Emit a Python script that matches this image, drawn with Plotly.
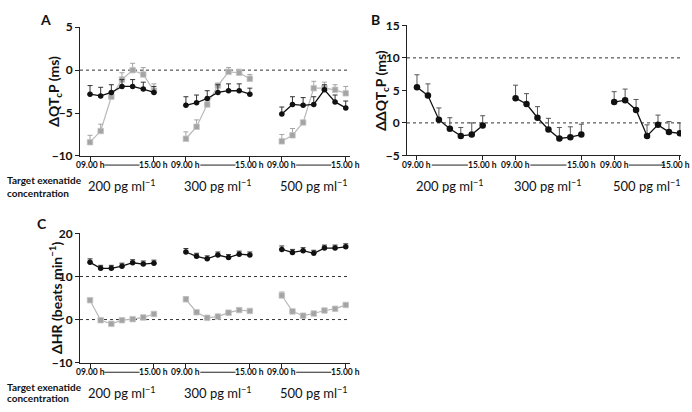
import plotly.graph_objects as go

W, H = 692, 412
FONT = "Lato"

groups = ["200", "300", "500"]
times = [0, 1, 2, 3, 4, 5, 6]
tick_labels = ["09.00 h", "15.00 h"]

# Panel A: delta QTcP (ms)
a_black = {"200": [-2.8, -3.0, -2.6, -1.9, -1.9, -2.2, -2.6],
           "300": [-4.1, -3.8, -3.3, -2.6, -2.4, -2.4, -2.8],
           "500": [-5.1, -4.0, -4.1, -4.0, -2.3, -3.7, -4.4]}
a_black_err = {"200": [1.0, 1.0, 0.9, 0.8, 0.8, 0.8, 0.7],
               "300": [1.0, 0.9, 0.9, 0.9, 0.8, 0.8, 0.7],
               "500": [0.8, 0.9, 0.9, 0.9, 0.6, 0.8, 0.8]}
a_gray = {"200": [-8.4, -7.1, -3.1, -1.1, 0.0, -0.5, -2.4],
          "300": [-8.0, -6.6, -4.0, -1.8, -0.2, -0.3, -1.0],
          "500": [-8.3, -7.6, -6.1, -2.1, -2.1, -2.3, -2.7]}
a_gray_err = {"200": [0.8, 0.8, 0.0, 0.8, 0.8, 0.8, 0.8],
              "300": [0.8, 0.8, 0.0, 0.0, 0.5, 0.4, 0.5],
              "500": [0.8, 0.8, 0.0, 0.8, 0.7, 0.6, 0.8]}

# Panel B: delta-delta QTcP (ms)
b_vals = {"200": [5.5, 4.2, 0.5, -0.9, -2.0, -1.8, -0.4],
          "300": [3.8, 2.9, 0.8, -1.0, -2.4, -2.2, -1.8],
          "500": [3.2, 3.5, 2.0, -2.0, -0.3, -1.4, -1.6]}
b_err = {"200": [1.9, 1.8, 1.8, 1.7, 1.3, 1.8, 1.5],
         "300": [2.0, 1.6, 1.7, 1.7, 1.7, 1.6, 1.6],
         "500": [1.6, 1.7, 1.6, 1.7, 1.5, 1.6, 1.6]}

# Panel C: delta HR (beats/min)
c_black = {"200": [13.3, 11.9, 11.9, 12.4, 13.2, 12.9, 13.1],
           "300": [15.7, 14.7, 14.1, 15.0, 14.4, 15.2, 15.0],
           "500": [16.3, 15.6, 16.0, 15.4, 16.6, 16.6, 16.9]}
c_black_err = {"200": [0.8, 0.7, 0.7, 0.7, 0.7, 0.7, 0.7],
               "300": [0.8, 0.7, 0.7, 0.7, 0.7, 0.7, 0.7],
               "500": [0.8, 0.7, 0.7, 0.7, 0.7, 0.7, 0.7]}
c_gray = {"200": [4.5, -0.15, -1.0, -0.15, 0.1, 0.5, 1.3],
          "300": [4.7, 1.7, 0.4, 0.7, 1.6, 2.2, 2.0],
          "500": [5.6, 1.9, 0.9, 1.4, 2.1, 2.5, 3.4]}
c_gray_err = {"200": [0.4, 0.2, 0.2, 0.2, 0.2, 0.2, 0.2],
              "300": [0.6, 0.2, 0.2, 0.2, 0.2, 0.2, 0.2],
              "500": [0.8, 0.2, 0.2, 0.2, 0.2, 0.2, 0.2]}

GAP = 9
BLACK = "#111111"
GRAY = "#a4a4a4"
GRAYLINE = "#b8b8b8"


def px_x(p):
    return p / W


def px_y(p):
    return 1 - p / H


fig = go.Figure()


def add_series(xa, ya, vals, errs, kind, msize=5.5, ecolor="#333333"):
    for gi, g in enumerate(groups):
        xs = [t + GAP * gi for t in times]
        if kind == "black":
            fig.add_trace(go.Scatter(
                x=xs, y=vals[g], xaxis=xa, yaxis=ya, mode="lines+markers",
                line=dict(color=BLACK, width=1.3),
                marker=dict(symbol="circle", size=msize, color=BLACK),
                error_y=dict(type="data", array=errs[g], arrayminus=[0] * len(xs),
                             symmetric=False, color=ecolor, thickness=1, width=2.5),
                showlegend=False, hoverinfo="skip"))
        else:
            fig.add_trace(go.Scatter(
                x=xs, y=vals[g], xaxis=xa, yaxis=ya, mode="lines+markers",
                line=dict(color=GRAYLINE, width=1.2),
                marker=dict(symbol="square", size=msize, color=GRAY,
                            line=dict(color="#c4c4c4", width=0.8)),
                error_y=dict(type="data", array=errs[g], arrayminus=[0] * len(xs),
                             symmetric=False, color=GRAY, thickness=1, width=2.5),
                showlegend=False, hoverinfo="skip"))


add_series("x", "y", a_gray, a_gray_err, "gray")
add_series("x", "y", a_black, a_black_err, "black")
add_series("x2", "y2", b_vals, b_err, "black", msize=6.5, ecolor="#555555")
add_series("x3", "y3", c_gray, c_gray_err, "gray")
add_series("x3", "y3", c_black, c_black_err, "black")

tickvals = []
ticktext = []
for gi in range(3):
    tickvals += [GAP * gi + 0, GAP * gi + 6]
    ticktext += tick_labels

xcommon = dict(showgrid=False, zeroline=False, showline=True, linecolor="#222",
               linewidth=1, ticks="outside", ticklen=4, tickcolor="#222",
               tickvals=tickvals, showticklabels=False)
ycommon = dict(showgrid=False, zeroline=False, showline=True, linecolor="#222",
               linewidth=1, ticks="outside", ticklen=4, tickcolor="#222",
               tickfont=dict(family=FONT, size=12, color="#111", weight="bold"))

fig.update_layout(
    width=W, height=H, margin=dict(l=0, r=0, t=0, b=0),
    paper_bgcolor="white", plot_bgcolor="white",
    xaxis=dict(domain=[px_x(80), px_x(350)], range=[-0.94, 24.4], anchor="y", **xcommon),
    yaxis=dict(domain=[px_y(153.5), px_y(20)], range=[-10, 5], anchor="x",
               tickvals=[-10, -5, 0, 5], ticktext=["−10", "−5", "0", "5"], **ycommon),
    xaxis2=dict(domain=[px_x(407), px_x(681)], range=[-0.91, 24.1], anchor="y2", **xcommon),
    yaxis2=dict(domain=[px_y(153), px_y(18)], range=[-5, 15], anchor="x2",
                tickvals=[-5, 0, 5, 10, 15], ticktext=["−5", "0", "5", "10", "15"], **ycommon),
    xaxis3=dict(domain=[px_x(80), px_x(350)], range=[-0.94, 24.4], anchor="y3", **xcommon),
    yaxis3=dict(domain=[px_y(368), px_y(234)], range=[-10, 20], anchor="x3",
                tickvals=[-10, 0, 10, 20], ticktext=["−10", "0", "10", "20"], **ycommon),
)

shapes = []
# dotted reference lines
for ya, x0, x1, yv in [("y", 80, 350, 0), ("y2", 407, 681, 0),
                       ("y2", 407, 681, 10), ("y3", 80, 350, 0),
                       ("y3", 80, 350, 10)]:
    shapes.append(dict(type="line", xref="paper", yref=ya, x0=px_x(x0), x1=px_x(x1),
                       y0=yv, y1=yv, line=dict(color="#333", width=1, dash="dot"), layer="below"))
# lines between tick labels
for xa, ypx in [("x", 163), ("x2", 163), ("x3", 378)]:
    for gi in range(3):
        shapes.append(dict(type="line", xref=xa, yref="paper",
                           x0=GAP * gi + 1.35, x1=GAP * gi + 4.65,
                           y0=px_y(ypx), y1=px_y(ypx), line=dict(color="#222", width=1)))
fig.update_layout(shapes=shapes)

ann = []
# x tick labels (as annotations so they never get hidden)
for xa, ypx in [("x", 163), ("x2", 163), ("x3", 378)]:
    for i, (xv, txt) in enumerate(zip(tickvals, ticktext)):
        last_b = (xa == "x2" and i == len(tickvals) - 1)
        ann.append(dict(text=txt, x=(px_x(692) if last_b else xv), y=px_y(ypx),
                        xref=("paper" if last_b else xa), yref="paper",
                        showarrow=False, xanchor=("right" if last_b else "center"),
                        yanchor="middle",
                        font=dict(family=FONT, size=8.5, color="#111", weight="bold")))
# panel letters
for txt, x, y in [("A", 45, 12), ("B", 376, 12), ("C", 42, 224)]:
    ann.append(dict(text=txt, x=px_x(x), y=px_y(y), xref="paper", yref="paper",
                    showarrow=False, xanchor="center", yanchor="middle",
                    font=dict(family=FONT, size=14, color="#111", weight="bold")))
# y axis titles
for txt, x, yc in [("ΔQT<sub>c</sub>P (ms)", 55, 87), ("ΔΔQT<sub>c</sub>P (ms)", 382, 86),
                   ("ΔHR (beats min<sup>−1</sup>)", 55, 301)]:
    ann.append(dict(text=txt, x=px_x(x), y=px_y(yc), xref="paper", yref="paper",
                    showarrow=False, textangle=-90, xanchor="center", yanchor="middle",
                    font=dict(family=FONT, size=14, color="#111", weight="bold")))
# concentration labels
for xa, ypx in [("x", 184), ("x2", 184), ("x3", 399)]:
    for gi, g in enumerate(groups):
        ann.append(dict(text=f"{g} pg ml<sup>−1</sup>", x=GAP * gi + 3, y=px_y(ypx),
                        xref=xa, yref="paper", showarrow=False, xanchor="center", yanchor="middle",
                        font=dict(family=FONT, size=13, color="#111")))
# Target exenatide concentration
for y1, y2 in [(179, 192), (393, 405)]:
    for txt, ypx in [("Target exenatide", y1), ("concentration", y2)]:
        ann.append(dict(text=txt, x=px_x(5), y=px_y(ypx),
                        xref="paper", yref="paper", showarrow=False, xanchor="left", yanchor="middle",
                        font=dict(family=FONT, size=10, color="#111", weight="bold")))
fig.update_layout(annotations=ann)

fig.write_html("out.html", config={"displayModeBar": False},
               post_script="document.body.style.margin='0';document.body.style.overflow='hidden';")
